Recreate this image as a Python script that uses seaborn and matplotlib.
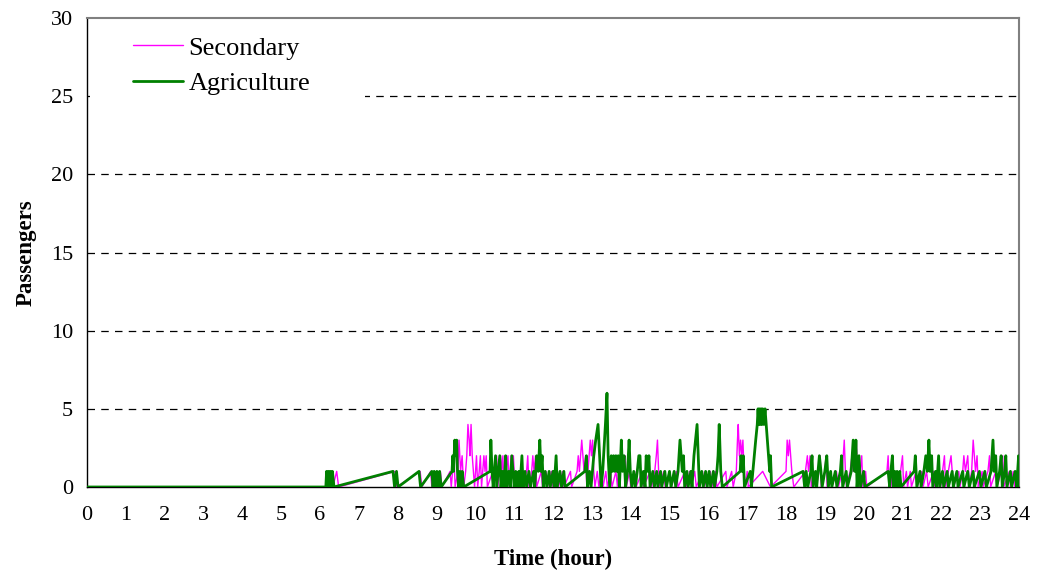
import numpy as np
import pandas as pd
import matplotlib
matplotlib.use("Agg")
import matplotlib.pyplot as plt
import seaborn as sns
from matplotlib.patches import Rectangle

# ---------------- data ----------------
agri_t = [0, 6.15, 6.17, 6.20, 6.22, 6.25, 6.27, 6.30, 6.32, 6.36,
          7.88, 7.92, 7.97, 8.01, 8.55, 8.59, 8.88, 8.91, 8.94, 8.98, 9.01, 9.05, 9.08, 9.12,
          9.40, 9.42, 9.44, 9.47, 9.49, 9.52, 9.54, 9.57, 9.60, 9.63, 9.66, 9.70,
          10.38, 10.40, 10.43, 10.46, 10.49, 10.52, 10.55, 10.59, 10.63, 10.66, 10.70, 10.74,
          10.78, 10.81, 10.86, 10.90, 10.94, 10.97, 11.00, 11.04, 11.08, 11.12, 11.15, 11.20,
          11.23, 11.28, 11.32, 11.38, 11.42, 11.50, 11.53, 11.58, 11.62, 11.66, 11.69, 11.72,
          11.75, 11.80, 11.84, 11.90, 11.93, 12.00, 12.03, 12.08, 12.11, 12.18, 12.22, 12.28, 12.31,
          12.82, 12.86, 12.89, 12.94, 12.98, 13.05, 13.10, 13.16, 13.20, 13.24, 13.28, 13.35,
          13.39, 13.42, 13.46, 13.50, 13.53, 13.56, 13.59, 13.62, 13.65, 13.68, 13.71, 13.76,
          13.79, 13.83, 13.87, 13.92, 13.96, 13.99, 14.03, 14.08, 14.12, 14.17, 14.21, 14.24,
          14.27, 14.33, 14.37, 14.40, 14.44, 14.47, 14.50, 14.57, 14.61, 14.67, 14.70, 14.77,
          14.80, 14.88, 14.92, 15.00, 15.04, 15.12, 15.16, 15.22, 15.27, 15.30, 15.33, 15.36,
          15.39, 15.45, 15.48, 15.55, 15.58, 15.63, 15.67, 15.71, 15.74, 15.77, 15.83, 15.87,
          15.93, 15.97, 16.02, 16.06, 16.13, 16.16, 16.22, 16.25, 16.28, 16.32, 16.36,
          16.82, 16.84, 16.87, 16.90, 16.93, 17.08, 17.11, 17.22, 17.26, 17.28, 17.30, 17.32,
          17.34, 17.36, 17.38, 17.40, 17.43, 17.46, 17.49, 17.55, 17.58, 17.60, 17.63,
          18.44, 18.48, 18.52, 18.56, 18.64, 18.67, 18.70, 18.76, 18.79, 18.86, 18.90, 18.93,
          19.00, 19.05, 19.09, 19.15, 19.18, 19.27, 19.31, 19.40, 19.43, 19.46, 19.55, 19.58,
          19.68, 19.73, 19.77, 19.80, 19.83, 19.88, 19.92, 20.00, 20.03,
          20.63, 20.67, 20.70, 20.74, 20.77, 20.80, 20.83, 20.86, 20.89, 20.93, 20.96, 21.30,
          21.33, 21.37, 21.45, 21.48, 21.55, 21.60, 21.64, 21.68, 21.71, 21.75, 21.78, 21.85,
          21.88, 21.93, 21.96, 22.03, 22.06, 22.15, 22.18, 22.28, 22.31, 22.40, 22.43, 22.55,
          22.58, 22.68, 22.72, 22.82, 22.85, 22.98, 23.02, 23.12, 23.16, 23.28, 23.33, 23.36,
          23.40, 23.43, 23.50, 23.54, 23.57, 23.63, 23.66, 23.69, 23.78, 23.81, 23.90, 23.94,
          23.99, 24.0]
agri_v = [0, 0, 1, 0, 1, 0, 1, 0, 1, 0,
          1, 0, 1, 0, 1, 0, 1, 0, 1, 0, 1, 0, 1, 0,
          1, 2, 1, 3, 2, 3, 1, 0, 1, 0, 1, 0,
          1, 3, 1, 0, 1, 2, 0, 1, 2, 0, 1, 0,
          2, 0, 1, 0, 2, 1, 0, 1, 0, 1, 0, 2,
          0, 1, 0, 1, 0, 1, 0, 2, 1, 3, 1, 2,
          0, 1, 0, 1, 0, 1, 0, 2, 0, 1, 0, 1, 0,
          1, 2, 0, 1, 0, 2, 3, 4, 2, 0, 1, 4,
          6, 2, 0, 2, 1, 2, 1, 2, 1, 2, 0, 3,
          1, 2, 0, 1, 3, 1, 0, 1, 0, 1, 2, 2,
          0, 1, 0, 2, 1, 2, 0, 1, 0, 1, 0, 1,
          0, 1, 0, 1, 0, 1, 0, 1, 3, 2, 1, 2,
          0, 1, 0, 1, 0, 2, 3, 4, 2, 0, 1, 0,
          1, 0, 1, 0, 1, 0, 1, 2, 4, 1, 0,
          1, 2, 1, 2, 0, 1, 0, 3, 4, 5, 4, 5,
          4, 5, 4, 5, 4, 5, 4, 2, 1, 2, 0,
          1, 0, 1, 0, 1, 2, 0, 1, 0, 2, 1, 0,
          1, 2, 0, 1, 0, 1, 0, 1, 2, 0, 1, 0,
          1, 3, 1, 3, 0, 2, 0, 1, 0,
          1, 0, 1, 2, 0, 1, 0, 1, 0, 1, 0, 1,
          2, 0, 1, 0, 1, 2, 1, 3, 1, 2, 0, 1,
          0, 2, 0, 1, 0, 1, 0, 1, 0, 1, 0, 1,
          0, 1, 0, 1, 0, 1, 0, 1, 0, 1, 3, 1,
          2, 0, 1, 2, 0, 1, 2, 0, 1, 0, 1, 0,
          2, 0]

sec_t = [0, 6.20, 6.22, 6.25, 6.29, 6.33, 6.43, 6.48, 7.93, 7.97, 8.58, 8.62, 8.85, 8.88,
         9.10, 9.14, 9.35, 9.38, 9.45, 9.48, 9.55, 9.58, 9.62, 9.66, 9.70, 9.75, 9.78, 9.81,
         9.84, 9.86, 9.89, 9.92, 9.95, 9.98, 10.03, 10.06, 10.10, 10.13, 10.16, 10.22, 10.25,
         10.28, 10.31, 10.45, 10.48, 10.55, 10.58, 10.65, 10.68, 10.71, 10.74, 10.84, 10.87,
         10.92, 10.95, 10.98, 11.02, 11.10, 11.13, 11.18, 11.22, 11.32, 11.35, 11.38, 11.45,
         11.48, 11.51, 11.55, 11.58, 11.70, 11.73, 11.82, 11.86, 11.96, 12.00, 12.10, 12.14,
         12.25, 12.28, 12.45, 12.48, 12.62, 12.65, 12.68, 12.71, 12.74, 12.77, 12.80, 12.84,
         12.87, 12.93, 12.96, 12.99, 13.02, 13.05, 13.08, 13.14, 13.18, 13.25, 13.29, 13.36,
         13.40, 13.48, 13.52, 13.62, 13.66, 13.72, 13.75, 13.78, 13.82, 13.86, 13.89, 13.97,
         14.00, 14.10, 14.14, 14.30, 14.33, 14.50, 14.54, 14.62, 14.66, 14.69, 14.72, 14.75,
         14.85, 14.89, 15.00, 15.04, 15.18, 15.22, 15.40, 15.44, 15.52, 15.56, 15.65, 15.69,
         15.85, 15.89, 16.05, 16.09, 16.18, 16.22, 16.45, 16.48, 16.60, 16.64, 16.72, 16.75,
         16.77, 16.80, 16.83, 16.86, 16.89, 16.92, 16.95, 17.00, 17.03, 17.40, 17.60, 18.00,
         18.03, 18.06, 18.09, 18.12, 18.15, 18.20, 18.50, 18.55, 18.58, 18.62, 18.65, 18.75,
         18.78, 18.85, 18.88, 18.91, 19.00, 19.03, 19.06, 19.15, 19.18, 19.30, 19.35, 19.45,
         19.50, 19.53, 19.56, 19.65, 19.70, 19.73, 19.78, 19.81, 19.84, 19.87, 19.95, 19.98,
         20.05, 20.08, 20.60, 20.63, 20.66, 20.70, 20.73, 20.95, 21.00, 21.03, 21.10, 21.13,
         21.20, 21.23, 21.35, 21.38, 21.50, 21.53, 21.62, 21.66, 21.80, 21.83, 21.95, 21.98,
         22.08, 22.11, 22.25, 22.28, 22.31, 22.45, 22.48, 22.55, 22.58, 22.62, 22.68, 22.72,
         22.78, 22.82, 22.85, 22.88, 22.92, 22.95, 23.05, 23.08, 23.20, 23.24, 23.27, 23.40,
         23.43, 23.55, 23.58, 23.61, 23.75, 23.78, 23.85, 23.89, 24.0]
sec_v = [0, 0, 1, 0, 1, 0, 1, 0, 1, 0, 1, 0, 1, 0,
         1, 0, 1, 0, 2, 0, 1, 3, 1, 2, 0, 1, 2, 4,
         3, 2, 4, 2, 1, 0, 2, 0, 1, 2, 0, 2, 1,
         2, 0, 1, 0, 2, 0, 2, 1, 2, 0, 2, 0,
         2, 1, 2, 0, 1, 0, 1, 0, 1, 2, 0, 1,
         2, 1, 2, 0, 1, 0, 1, 0, 1, 0, 1, 0,
         1, 0, 1, 0, 1, 2, 1, 2, 3, 2, 1, 2,
         0, 2, 3, 2, 3, 1, 0, 1, 0, 1, 0, 1,
         0, 1, 0, 1, 0, 2, 1, 2, 1, 2, 0, 1,
         0, 1, 0, 1, 0, 1, 0, 1, 2, 3, 1, 0,
         1, 0, 1, 0, 1, 0, 1, 0, 1, 0, 1, 0,
         1, 0, 1, 0, 1, 0, 1, 0, 1, 0, 1, 3,
         4, 2, 3, 2, 3, 1, 0, 1, 0, 1, 0, 1,
         3, 2, 3, 2, 1, 0, 1, 2, 1, 2, 0, 1,
         0, 1, 2, 0, 1, 2, 0, 1, 0, 1, 0, 1,
         3, 1, 0, 1, 2, 1, 2, 3, 1, 0, 2, 0,
         1, 0, 1, 2, 0, 1, 0, 1, 2, 0, 1, 0,
         1, 0, 1, 0, 1, 0, 1, 0, 1, 0, 1, 0,
         2, 0, 2, 1, 0, 1, 0, 1, 2, 1, 2, 0,
         1, 3, 2, 1, 2, 0, 1, 0, 1, 2, 0, 1,
         0, 1, 2, 0, 1, 0, 1, 0, 1]

x_ticks = list(range(0, 25))
y_ticks = [0, 5, 10, 15, 20, 25, 30]
series_names = ["Secondary", "Agriculture"]

# ---------------- plot ----------------
sns.set_style("white")
plt.rcParams['font.family'] = ['Liberation Serif', 'DejaVu Serif']
plt.rcParams['text.color'] = 'black'
plt.rcParams['axes.labelcolor'] = 'black'
plt.rcParams['xtick.color'] = 'black'
plt.rcParams['ytick.color'] = 'black'

fig = plt.figure(figsize=(10.37, 5.73), dpi=100)
ax = fig.add_axes([87/1037, 86/573, (1019-87)/1037, (487-18)/573])

sec_df = pd.DataFrame({"t": sec_t, "v": sec_v})
agri_df = pd.DataFrame({"t": agri_t, "v": agri_v})

sns.lineplot(data=sec_df, x="t", y="v", ax=ax, color="#ff00ff", lw=1.0,
             estimator=None, sort=False, label=series_names[0], zorder=3)
sns.lineplot(data=agri_df, x="t", y="v", ax=ax, color="#008000", lw=2.0,
             estimator=None, sort=False, label=series_names[1], zorder=4)

ax.set_xlim(0, 24)
ax.set_ylim(0, 30)
ax.set_xticks(x_ticks)
ax.set_yticks(y_ticks)
ax.tick_params(axis="both", direction="out", length=5, width=1, colors="black",
               labelsize=16, pad=5)
ax.tick_params(axis="x", pad=9)

for yv in [5, 10, 15, 20, 25]:
    ax.axhline(yv, color="black", lw=0.9, ls=(0, (6, 5)), zorder=1)

for s in ["left", "bottom"]:
    ax.spines[s].set_color("black")
    ax.spines[s].set_linewidth(1.0)
for s in ["top", "right"]:
    ax.spines[s].set_color("#808080")
    ax.spines[s].set_linewidth(1.5)

# white legend backdrop
ax.add_patch(Rectangle((0.003, 0.82), 0.295, 0.17, transform=ax.transAxes,
                       facecolor="white", edgecolor="none", zorder=2))

ax.set_xlabel("Time (hour)", fontsize=16.5, fontweight="bold", labelpad=17,
              color="black")
ax.set_ylabel("Passengers", fontsize=16.5, fontweight="bold", labelpad=10,
              color="black")

leg = ax.legend(loc="upper left", bbox_to_anchor=(0.024, 1.012), frameon=False,
                fontsize=19, handlelength=1.9, handletextpad=0.2, labelspacing=0.45,
                borderpad=0.4)
for txt in leg.get_texts():
    txt.set_color("black")

fig.savefig("out.png", dpi=100)
